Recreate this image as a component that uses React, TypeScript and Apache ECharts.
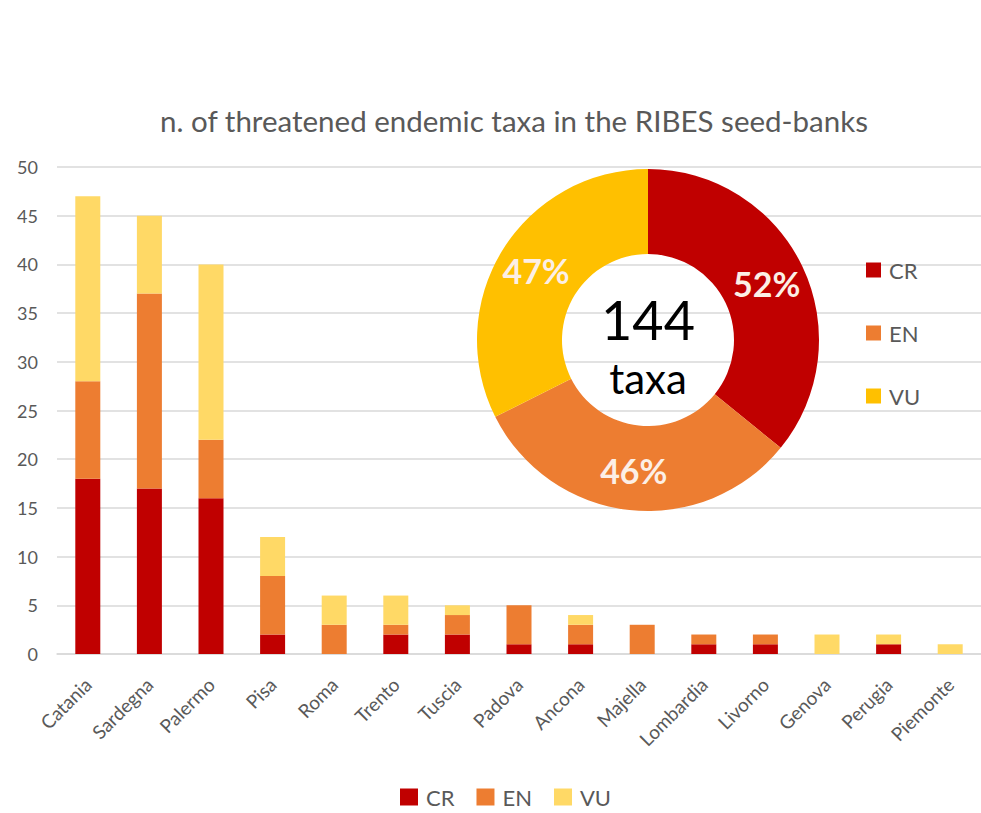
import React, { useEffect, useRef } from "react";
import * as echarts from "echarts";

const categories = ["Catania", "Sardegna", "Palermo", "Pisa", "Roma", "Trento", "Tuscia", "Padova", "Ancona", "Majella", "Lombardia", "Livorno", "Genova", "Perugia", "Piemonte"];
const crValues = [18, 17, 16, 2, 0, 2, 2, 1, 1, 0, 1, 1, 0, 1, 0];
const enValues = [10, 20, 6, 6, 3, 1, 2, 4, 2, 3, 1, 1, 0, 0, 0];
const vuValues = [19, 8, 18, 4, 3, 3, 1, 0, 1, 0, 0, 0, 2, 1, 1];
const yTicks = [0, 5, 10, 15, 20, 25, 30, 35, 40, 45, 50];
const donutNames = ["CR", "EN", "VU"];
const donutPercents = [52, 46, 47];
const totalTaxa = "144";
const totalLabel = "taxa";

const BAR_COLORS = ["#C00000", "#ED7D31", "#FFD966"];
const PIE_COLORS = ["#C00000", "#ED7D31", "#FFC000"];
const FONT = "Lato, 'Open Sans', sans-serif";
const GREY = "#595959";

export default function App() {
  const ref = useRef<HTMLDivElement>(null);
  useEffect(() => {
    if (!ref.current) return;
    const chart = echarts.init(ref.current, null, { renderer: "svg" });
    const barSeries = [crValues, enValues, vuValues].map((vals, i) => ({
      name: donutNames[i],
      type: "bar",
      stack: "total",
      barWidth: 25,
      data: vals,
      itemStyle: { color: BAR_COLORS[i] },
      z: 2,
    }));
    chart.setOption({
      animation: false,
      backgroundColor: "#ffffff",
      textStyle: { fontFamily: FONT },
      title: {
        text: "n. of threatened endemic taxa in the RIBES seed-banks",
        left: 509,
        top: 100,
        textAlign: "center",
        textStyle: { fontFamily: FONT, fontSize: 29.5, fontWeight: "normal", color: GREY },
      },
      legend: [
        {
          data: donutNames,
          left: 395,
          top: 781,
          icon: "rect",
          itemWidth: 18,
          itemHeight: 17,
          itemGap: 22,
          selectedMode: false,
          textStyle: { fontFamily: FONT, fontSize: 22, lineHeight: 20, color: GREY, padding: [0, 0, 0, 3] },
        },
        {
          data: donutNames.map((n, i) => ({ name: n, itemStyle: { color: PIE_COLORS[i] } })),
          orient: "vertical",
          left: 861,
          top: 254,
          icon: "rect",
          itemWidth: 15,
          itemHeight: 15,
          itemGap: 41,
          selectedMode: false,
          textStyle: { fontFamily: FONT, fontSize: 22, lineHeight: 22, color: GREY, padding: [0, 0, 0, 3] },
        },
      ],
      grid: { left: 57, right: -12, top: 167, bottom: 159, containLabel: false },
      xAxis: {
        type: "category",
        data: categories,
        axisLine: { lineStyle: { color: "#d9d9d9", width: 1.5 } },
        axisTick: { show: false },
        axisLabel: { rotate: 45, fontFamily: FONT, fontSize: 19, color: GREY, margin: 27, interval: 0 },
      },
      yAxis: {
        type: "value",
        min: 0,
        max: 50,
        interval: 5,
        axisLine: { show: false },
        axisTick: { show: false },
        axisLabel: { fontFamily: FONT, fontSize: 18, color: GREY, margin: 19 },
        splitLine: { lineStyle: { color: "#d9d9d9", width: 1.5 } },
      },
      series: [
        ...barSeries,
        {
          name: "donut",
          type: "pie",
          center: [648, 340],
          radius: [86, 171],
          startAngle: 90,
          clockwise: true,
          z: 5,
          label: {
            show: true,
            position: "inside",
            formatter: "{c}%",
            fontFamily: FONT,
            fontSize: 34,
            fontWeight: "bold",
            color: "#fcefe6",
          },
          labelLine: { show: false },
          emphasis: { disabled: true },
          data: donutNames.map((n, i) => ({ name: n, value: donutPercents[i], itemStyle: { color: PIE_COLORS[i] } })),
        },
      ],
      graphic: [
        {
          type: "text",
          x: 648,
          y: 319,
          z: 10,
          style: { text: totalTaxa, fontFamily: FONT, fontSize: 54, fill: "#000000", align: "center", verticalAlign: "middle" },
        },
        {
          type: "text",
          x: 648,
          y: 378,
          z: 10,
          style: { text: totalLabel, fontFamily: FONT, fontSize: 42, fill: "#000000", align: "center", verticalAlign: "middle" },
        },
      ],
    });
    return () => chart.dispose();
  }, []);
  return <div ref={ref} style={{ position: "fixed", left: 0, top: 0, width: 981, height: 813 }} />;
}
